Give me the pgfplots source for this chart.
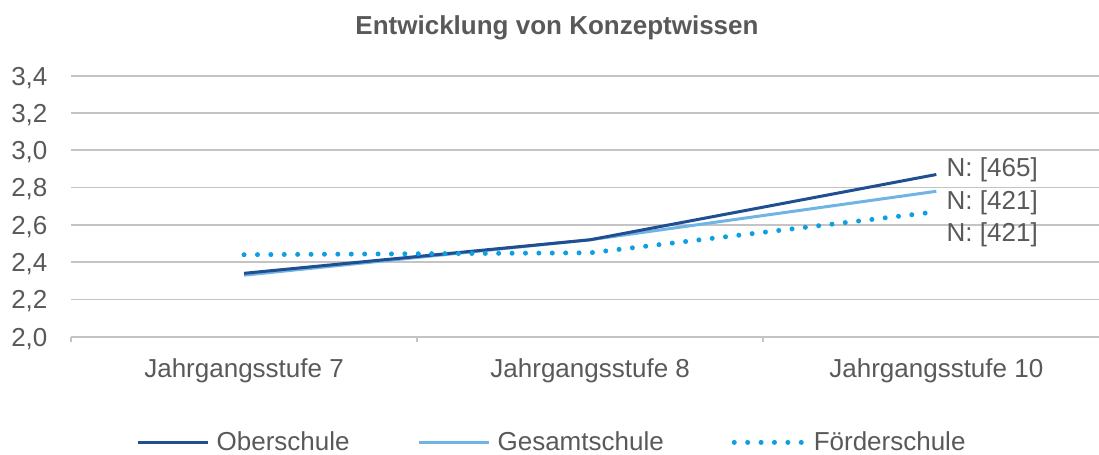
\documentclass[border=0pt]{standalone}
\usepackage{fontspec}
\setmainfont{Liberation Sans}
\usepackage{pgfplots}
\pgfplotsset{compat=1.18}
\definecolor{txt}{HTML}{595959}
\definecolor{gridc}{HTML}{C4C4C4}
\definecolor{ober}{HTML}{1F4E91}
\definecolor{gesamt}{HTML}{70B4E6}
\definecolor{foerder}{HTML}{119DE2}
\newcommand{\fs}{\fontsize{13}{15.6}\selectfont}

\pgfplotstableread{
x ober gesamt foerder
0 2.34 2.33 2.44
1 2.52 2.52 2.45
2 2.87 2.78 2.67
}\schulen

\begin{document}
\begin{tikzpicture}
% 1 px of the reference = 0.5pt
\useasboundingbox (0,0) rectangle (549.5pt,-227.5pt);
\node[font=\fs\bfseries, text=txt] at (278.5pt,-14pt) {Entwicklung von Konzeptwissen};
\begin{axis}[
  at={(35.5pt,-168.35pt)}, anchor=south west,
  scale only axis, width=514pt, height=130.5pt,
  xmin=-0.5, xmax=2.47, ymin=2.0, ymax=3.4,
  xtick={0,1,2},
  xticklabels={Jahrgangsstufe 7, Jahrgangsstufe 8, Jahrgangsstufe 10},
  minor xtick={-0.5,0.5,1.5},
  ytick={2.0,2.2,...,3.4},
  major tick length=0pt, minor tick length=2.5pt, tick align=outside,
  minor tick style={gridc, line width=0.8pt},
  ymajorgrids, major grid style={gridc, line width=0.8pt},
  axis x line*=bottom, axis y line*=left,
  x axis line style={gridc, line width=0.8pt, -},
  y axis line style={draw=none},
  tick label style={font=\fs, text=txt},
  x tick label style={anchor=base, inner sep=0pt, yshift=-20.2pt},
  y tick label style={anchor=base east, inner sep=0pt, xshift=-11.6pt, yshift=-4.65pt},
  /pgf/number format/.cd, fixed, fixed zerofill, precision=1, use comma,
    assume math mode=true,
  /pgfplots/.cd,
  clip=false,
  legend columns=3,
  legend style={at={(0.467,-0.405)}, anchor=center, draw=none, fill=none,
    inner sep=0pt, font=\fs, text=txt,
    nodes={inner sep=0pt},
    /tikz/every odd column/.append style={column sep=3.5pt},
    /tikz/every even column/.append style={column sep=34pt}},
  legend image code/.code={\draw[#1] (0pt,0pt) -- (35pt,0pt);},
]
\addplot[gesamt, line width=1.5pt, forget plot] table[x=x, y=gesamt] {\schulen};
\addplot[ober, line width=1.5pt] table[x=x, y=ober] {\schulen};
\addlegendentry{Oberschule}
\addlegendimage{gesamt, line width=1.5pt}
\addlegendentry{Gesamtschule}
\addplot[foerder, line width=2.5pt, line cap=round, dash pattern=on 0pt off 6.7pt]
  table[x=x, y=foerder] {\schulen};
\addlegendentry{Förderschule}
\node[anchor=base west, inner sep=0pt, font=\fs, text=txt, xshift=5pt] at (axis cs:2,2.862) {N: [465]};
\node[anchor=base west, inner sep=0pt, font=\fs, text=txt, xshift=5pt] at (axis cs:2,2.685) {N: [421]};
\node[anchor=base west, inner sep=0pt, font=\fs, text=txt, xshift=5pt] at (axis cs:2,2.513) {N: [421]};
\end{axis}
\end{tikzpicture}
\end{document}
